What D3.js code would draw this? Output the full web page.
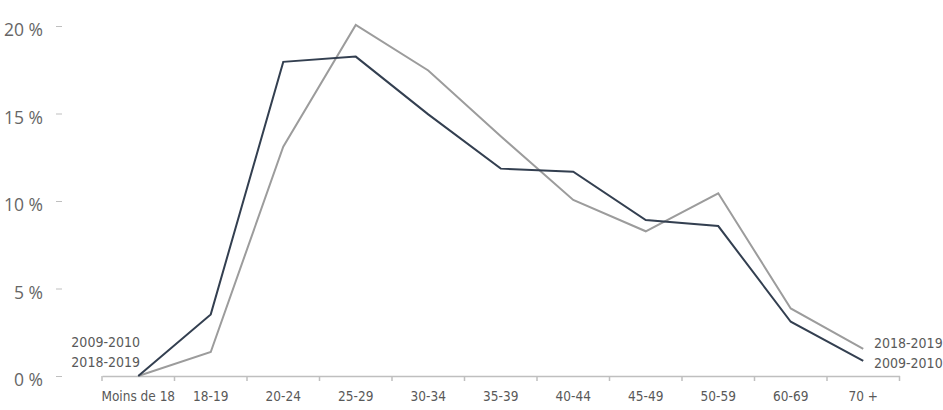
<!DOCTYPE html>
<html>
<head>
<meta charset="utf-8">
<script src="https://cdn.jsdelivr.net/npm/d3@7"></script>
<style>
  body { margin: 0; background: #fff; }
  svg { display: block; }
</style>
</head>
<body>
<svg id="chart" width="943" height="410"></svg>
<script>
// data
var categories = ["Moins de 18", "18-19", "20-24", "25-29", "30-34", "35-39",
                  "40-44", "45-49", "50-59", "60-69", "70 +"];
var values2009 = [0, 3.52, 17.95, 18.25, 14.95, 11.85, 11.67, 8.91, 8.57, 3.10, 0.87];
var values2018 = [0, 1.37, 13.1, 20.06, 17.46, 13.7, 10.06, 8.27, 10.44, 3.86, 1.55];
var yTicks = [0, 5, 10, 15, 20];
var seriesNames = ["2009-2010", "2018-2019"];

var narrow = "'DejaVu Sans Condensed', sans-serif";

var svg = d3.select("#chart");

var x = d3.scaleBand()
    .domain(categories)
    .range([102, 899.5]);
var y = d3.scaleLinear()
    .domain([0, 20])
    .range([376, 26]);

// y axis: only small ticks and labels
var gy = svg.append("g")
    .attr("transform", "translate(62,0)")
    .call(d3.axisLeft(y)
        .tickValues(yTicks)
        .tickSize(6)
        .tickPadding(13)
        .tickFormat(function(d) { return d + " %"; }));
gy.select(".domain").remove();
gy.selectAll(".tick line").attr("stroke", "#bfbfbf");
gy.selectAll(".tick text")
    .attr("dy", "0.38em")
    .attr("y", 3)
    .style("font-family", "'Open Sans', sans-serif")
    .style("font-size", "17.5px")
    .attr("fill", "#666");

// x axis
var gx = svg.append("g")
    .attr("transform", "translate(0,376)")
    .call(d3.axisBottom(x).tickSize(0).tickPadding(15));
gx.select(".domain").attr("stroke", "#bfbfbf").attr("stroke-width", 1.5);
gx.selectAll(".tick text")
    .style("font-family", narrow)
    .style("font-size", "13.5px")
    .attr("fill", "#595959");

// tick marks between categories
var bounds = categories.map(function(c) { return x(c); }).concat([x.range()[1]]);
gx.selectAll("line.bound")
    .data(bounds)
    .enter().append("line")
    .attr("class", "bound")
    .attr("x1", function(d) { return d; })
    .attr("x2", function(d) { return d; })
    .attr("y1", 0)
    .attr("y2", 5)
    .attr("stroke", "#bfbfbf")
    .attr("stroke-width", 1.5);

var line = d3.line()
    .x(function(d, i) { return x(categories[i]) + x.bandwidth() / 2; })
    .y(function(d) { return y(d); });

svg.append("path")
    .datum(values2018)
    .attr("fill", "none")
    .attr("stroke", "#9c9c9c")
    .attr("stroke-width", 2)
    .attr("d", line);

svg.append("path")
    .datum(values2009)
    .attr("fill", "none")
    .attr("stroke", "#333f50")
    .attr("stroke-width", 2)
    .attr("d", line);

// series labels at both ends
var labels = svg.append("g")
    .style("font-family", narrow)
    .style("font-size", "14px")
    .attr("fill", "#595959");

labels.append("text").attr("x", 140).attr("y", 347).attr("text-anchor", "end").text(seriesNames[0]);
labels.append("text").attr("x", 140).attr("y", 367).attr("text-anchor", "end").text(seriesNames[1]);
labels.append("text").attr("x", 874).attr("y", 348).text(seriesNames[1]);
labels.append("text").attr("x", 874).attr("y", 368).text(seriesNames[0]);
</script>
</body>
</html>
